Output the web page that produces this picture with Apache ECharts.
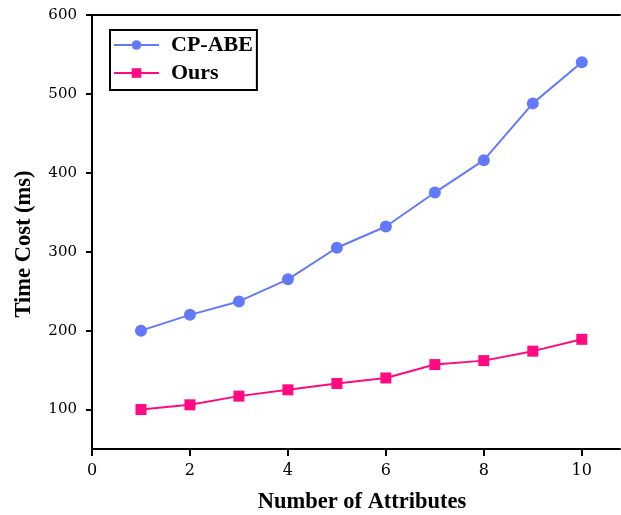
<!DOCTYPE html>
<html><head><meta charset="utf-8">
<script src="https://cdn.jsdelivr.net/npm/echarts@6/dist/echarts.min.js"></script>
<style>html,body{margin:0;padding:0;background:#fff}#c{width:621px;height:515px}</style>
</head><body><div id="c"></div>
<script>
const attributes = [1,2,3,4,5,6,7,8,9,10];
const cpabe = [200,220,237,265,305,332,375,416,488,540];
const ours = [100,106,117,125,133,140,157,162,174,189];
const xTicks = [0,2,4,6,8,10];
const yTicks = [100,200,300,400,500,600];

const chart = echarts.init(document.getElementById('c'), null, {renderer:'canvas'});
const serif = 'Liberation Serif';
const tickFont = 'DejaVu Serif';
chart.setOption({
  animation:false,
  grid:{left:92,right:1,top:15,bottom:66,show:false,containLabel:false,outerBoundsMode:'none'},
  legend:{
    orient:'vertical',left:110,top:30,
    data:['CP-ABE','Ours'],
    borderColor:'#000',borderWidth:2,borderRadius:0,
    padding:[4,4,6,3],itemGap:6,
    itemWidth:45,itemHeight:12,
    textStyle:{fontFamily:serif,fontWeight:'bold',fontSize:22,color:'#000',padding:[0,0,0,7]}
  },
  xAxis:[{
    type:'value',min:0,max:10.78,
    name:'Number of Attributes',nameLocation:'middle',nameGap:42,
    nameTextStyle:{fontFamily:serif,fontWeight:'bold',fontSize:22.5,color:'#000',padding:[0,0,0,12]},
    axisLine:{lineStyle:{color:'#000',width:2}},
    axisTick:{customValues:xTicks,length:7,inside:false,lineStyle:{width:2,color:'#000'}},
    axisLabel:{customValues:xTicks,fontFamily:tickFont,fontSize:16,color:'#000',margin:14},
    splitLine:{show:false}
  },{
    type:'value',min:0,max:10.78,position:'top',
    axisLine:{show:true,lineStyle:{color:'#000',width:2}},
    axisTick:{show:false},axisLabel:{show:false},splitLine:{show:false}
  }],
  yAxis:{
    type:'value',min:50,max:600,
    name:'Time Cost (ms)',nameLocation:'middle',nameGap:56,
    nameTextStyle:{fontFamily:serif,fontWeight:'bold',fontSize:22.5,color:'#000',padding:[0,24,0,0]},
    axisLine:{lineStyle:{color:'#000',width:2}},
    axisTick:{customValues:yTicks,length:6,inside:false,lineStyle:{width:2,color:'#000'}},
    axisLabel:{customValues:yTicks,fontFamily:tickFont,fontSize:15,color:'#000',margin:15},
    splitLine:{show:false}
  },
  series:[
    {name:'CP-ABE',type:'line',xAxisIndex:0,data:attributes.map((x,i)=>[x,cpabe[i]]),
     symbol:'circle',symbolSize:12,
     lineStyle:{color:'#6279fb',width:2},itemStyle:{color:'#6279fb'}},
    {name:'Ours',type:'line',xAxisIndex:0,data:attributes.map((x,i)=>[x,ours[i]]),
     symbol:'rect',symbolSize:11,
     lineStyle:{color:'#ff0a80',width:2},itemStyle:{color:'#ff0a80'}}
  ]
});
</script></body></html>
